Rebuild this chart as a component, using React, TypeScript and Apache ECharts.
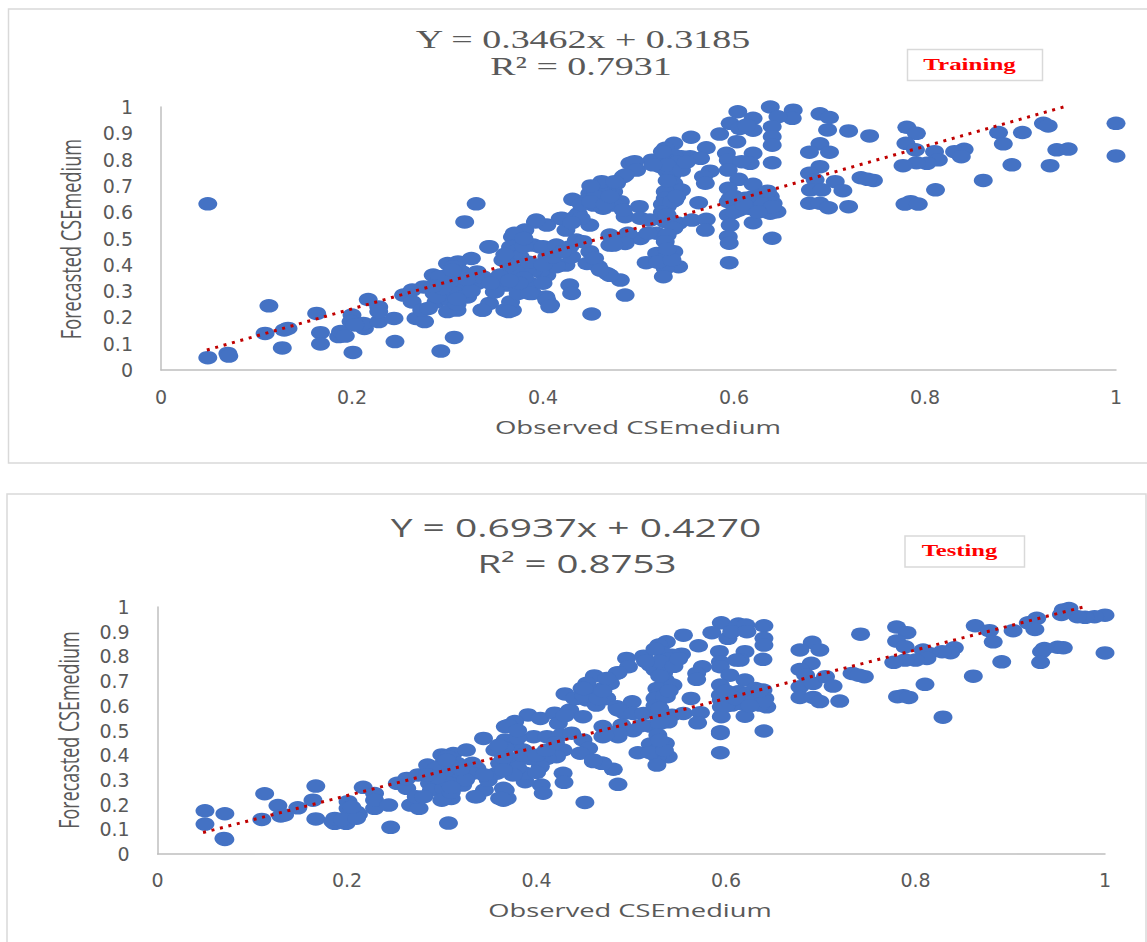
import React, { useEffect, useRef } from "react";
import * as echarts from "echarts";

const trainingPoints: number[][] = [
  [.049,.047],[.049,.632],[.07,.063],[.071,.053],[.113,.244],[.109,.139],[.127,.084],[.129,.152],[.133,.158],
  [.163,.215],[.167,.142],[.167,.099],[.186,.127],[.188,.146],[.193,.129],[.201,.067],[.2,.209],[.199,.184],[.213,.158],[.212,.177],[.203,.171],
  [.217,.268],[.228,.24],[.228,.184],[.228,.222],[.244,.196],[.245,.108],[.254,.285],[.263,.259],[.263,.304],[.275,.316],[.267,.196],[.276,.184],[.273,.228],[.293,.072],[.307,.124],
  [.3,.405],[.311,.411],[.325,.424],[.285,.361],[.3,.361],[.315,.373],[.331,.373],[.337,.354],[.331,.329],[.315,.335],[.302,.323],[.286,.291],[.298,.285],[.311,.316],[.321,.278],[.288,.259],[.302,.266],[.31,.228],[.3,.222],[.28,.234],[.319,.31],[.306,.392],[.294,.348],[.311,.354],[.308,.291],
  [.318,.563],[.33,.632],[.337,.228],[.344,.253],[.349,.297],[.343,.468],[.36,.228],[.368,.228],[.366,.259],[.364,.222],
  [.368,.506],[.381,.532],[.392,.563],[.404,.551],[.418,.576],[.424,.532],[.366,.468],[.374,.456],[.358,.418],[.368,.43],[.358,.361],[.368,.367],[.377,.38],[.362,.323],[.374,.316],[.385,.329],[.389,.291],[.374,.291],[.403,.278],[.408,.247],[.428,.323],[.43,.291],
  [.397,.468],[.412,.468],[.404,.43],[.395,.399],[.389,.392],[.404,.361],[.397,.373],[.416,.399],[.424,.399],[.43,.43],[.428,.468],[.435,.494],
  [.431,.649],[.434,.582],[.437,.595],[.393,.57],[.42,.577],[.449,.551],[.44,.577],[.449,.672],[.446,.646],[.453,.627],[.463,.615],[.474,.634],[.474,.678],[.46,.653],[.467,.684],[.477,.71],[.484,.735],[.491,.786],[.4615,.716],[.486,.583],[.481,.64],
  [.47,.475],[.47,.513],[.482,.5],[.481,.342],[.467,.367],[.458,.393],[.446,.405],[.449,.45],[.454,.425],[.442,.488],[.451,.213],[.486,.285],[.404,.266],[.407,.241],[.414,.393],[.39,.475],[.4,.469],[.414,.475],[.386,.33],[.386,.291],[.376,.355],[.376,.431],[.355,.361],[.372,.38],[.39,.38],[.35,.298],[.336,.228],[.344,.469],[.334,.355],[.292,.355],[.289,.279],[.317,.279],
  [.638,1.0],[.662,.988],[.661,.957],[.646,.963],[.604,.982],[.62,.957],[.596,.938],[.585,.897],[.603,.868],[.606,.919],[.62,.912],[.64,.925],[.613,.931],[.64,.887],[.64,.855],[.555,.885],[.571,.845],[.537,.862],[.528,.843],
  [.592,.824],[.594,.798],[.62,.824],[.617,.786],[.608,.792],[.64,.788],[.594,.76],[.554,.811],[.565,.805],[.545,.811],[.537,.817],[.528,.805],[.514,.798],[.523,.773],[.53,.754],[.538,.767],[.535,.741],[.496,.792],[.498,.76],[.486,.741],[.475,.716],
  [.575,.756],[.568,.735],[.57,.71],[.605,.725],[.62,.706],[.537,.71],[.545,.684],[.528,.678],[.528,.653],[.53,.621],[.538,.646],[.594,.691],[.596,.653],[.594,.64],[.612,.653],[.62,.659],[.629,.665],[.638,.659],[.641,.634],[.645,.602],[.638,.596],
  [.563,.636],[.501,.621],[.475,.627],[.484,.608],[.502,.577],[.512,.57],[.528,.564],[.542,.558],[.537,.539],[.519,.52],[.53,.513],[.556,.57],[.571,.573],[.57,.532],[.594,.589],[.605,.608],[.596,.551],[.62,.56],[.615,.615],
  [.594,.507],[.595,.482],[.64,.501],[.595,.408],[.528,.488],[.519,.443],[.537,.45],[.528,.424],[.542,.393],[.508,.408],[.528,.386],[.526,.355],[.502,.5],[.489,.52],[.486,.481],[.474,.475],
  [1,.938],[1,.814],[.938,.837],[.95,.84],[.924,.938],[.929,.928],[.902,.903],[.877,.903],[.882,.86],[.891,.78],[.931,.777],[.861,.721],[.841,.839],[.831,.83],[.838,.811],[.81,.83],[.814,.799],[.802,.786],[.791,.788],[.777,.777],[.811,.685],
  [.781,.923],[.791,.9],[.78,.862],[.79,.837],[.785,.64],[.779,.631],[.793,.631],[.742,.89],[.72,.909],[.698,.913],[.69,.974],[.7,.96],[.69,.86],[.679,.828],[.7,.828],[.69,.773],[.679,.748],[.685,.723],[.68,.685],[.692,.685],[.679,.634],[.69,.634],[.699,.617],[.72,.621],[.733,.731],[.746,.721],[.74,.725],[.706,.716],[.714,.682],
  [.31,.25],[.325,.3],[.295,.31],[.305,.38],[.32,.345],[.285,.32],[.31,.27],[.345,.33],[.365,.4],[.38,.35],[.385,.41],[.375,.33],[.4,.4],[.41,.43],[.42,.45],[.365,.34],[.36,.44],[.38,.47],[.37,.52],[.38,.5],[.4,.33],[.43,.56],[.44,.63],[.455,.66],[.45,.64],[.465,.63],[.47,.66],[.525,.63],[.535,.64],[.525,.83],[.54,.79],[.53,.78],[.545,.76],[.55,.79],[.515,.78],[.53,.72],[.54,.66],[.525,.6],[.53,.59],[.6,.6],[.61,.63],[.63,.63],[.64,.62],[.625,.6],[.635,.68],[.6,.66],[.45,.7],[.52,.41],[.535,.42],[.53,.46],[.51,.52],[.47,.36],[.46,.38],
];

const testingPoints: number[][] = [
  [.05,.175],[.071,.163],[.05,.121],[.07,.063],[.071,.059],[.113,.244],[.11,.14],[.127,.196],[.13,.154],[.134,.158],[.148,.187],[.164,.218],[.167,.275],[.167,.142],
  [.185,.131],[.187,.124],[.199,.124],[.187,.144],[.201,.212],[.201,.185],[.201,.151],[.212,.16],[.217,.27],[.229,.245],[.229,.185],[.229,.218],[.244,.198],[.246,.108],[.307,.125],
  [.253,.286],[.263,.266],[.263,.306],[.275,.32],[.267,.198],[.276,.185],[.273,.232],
  [.3,.401],[.312,.407],[.326,.421],[.285,.36],[.3,.36],[.316,.367],[.332,.367],[.337,.347],[.332,.326],[.316,.326],[.302,.32],[.287,.286],[.298,.279],[.312,.313],[.322,.279],[.289,.259],[.302,.266],[.31,.225],[.3,.218],[.281,.232],[.32,.306],[.306,.394],[.294,.347],[.312,.353],[.308,.286],
  [.337,.232],[.345,.259],[.349,.299],[.344,.468],[.361,.225],[.369,.225],[.367,.259],[.365,.218],
  [.43,.648],[.461,.721],[.485,.732],[.495,.792],[.453,.691],[.448,.671],[.442,.63],[.453,.624],[.463,.603],[.474,.63],[.47,.671],[.463,.651],[.478,.691],[.485,.59],[.493,.57],
  [.391,.563],[.404,.549],[.419,.57],[.435,.583],[.449,.556],[.423,.529],[.367,.516],[.377,.536],[.367,.462],[.377,.448],[.356,.421],[.367,.428],
  [.397,.475],[.411,.475],[.426,.482],[.437,.489],[.449,.462],[.455,.428],[.446,.408],[.46,.374],[.469,.367],[.481,.343],[.47,.516],[.47,.475],[.488,.502],[.486,.475],
  [.428,.327],[.429,.29],[.451,.209],[.486,.282],[.405,.279],[.407,.246],[.388,.293],[.388,.327],[.377,.34],[.375,.367],[.361,.367],[.358,.327],[.335,.232],[.365,.266],[.363,.225],
  [.428,.421],[.421,.394],[.411,.387],[.404,.354],[.393,.387],[.386,.421],[.372,.387],
  [.595,.936],[.613,.931],[.621,.927],[.64,.924],[.585,.896],[.602,.873],[.606,.9],[.622,.9],[.64,.873],[.64,.846],[.639,.788],[.555,.886],[.571,.843],[.537,.859],[.529,.846],[.593,.819],[.594,.778],[.594,.758],[.62,.819],[.615,.785],[.611,.785],
  [.553,.809],[.543,.805],[.534,.812],[.513,.801],[.52,.765],[.525,.745],[.536,.758],[.534,.731],[.497,.758],[.486,.734],[.474,.711],
  [.575,.758],[.569,.731],[.569,.707],[.604,.724],[.62,.704],[.536,.704],[.544,.684],[.527,.67],[.528,.643],[.529,.623],[.537,.637],[.594,.684],[.594,.643],[.595,.623],[.613,.657],[.622,.65],[.631,.67],[.639,.664],[.641,.63],[.643,.596],[.636,.603],
  [.563,.63],[.501,.616],[.474,.63],[.485,.596],[.486,.583],[.502,.569],[.513,.569],[.529,.562],[.543,.562],[.539,.535],[.52,.518],[.53,.529],[.555,.569],[.573,.572],[.57,.531],[.595,.596],[.606,.603],[.595,.556],[.62,.558],[.615,.61],
  [.594,.495],[.594,.488],[.64,.498],[.594,.41],[.528,.481],[.52,.445],[.536,.448],[.528,.421],[.539,.394],[.507,.41],[.527,.394],[.527,.36],[.502,.499],[.49,.522],[.486,.488],[.472,.481],[.47,.367],
  [1,.967],[1,.814],[.989,.961],[.979,.958],[.971,.961],[.962,.994],[.956,.988],[.954,.97],[.928,.954],[.919,.936],[.926,.909],[.936,.832],[.933,.819],[.95,.837],[.956,.835],[.932,.776],[.863,.924],[.878,.904],[.903,.904],[.882,.859],[.891,.778],[.861,.72],
  [.841,.835],[.837,.815],[.828,.819],[.814,.812],[.808,.826],[.812,.792],[.8,.785],[.789,.785],[.777,.776],[.81,.687],[.829,.554],[.78,.919],[.791,.896],[.78,.862],[.789,.839],[.781,.637],[.787,.641],[.793,.634],[.742,.89],
  [.691,.857],[.678,.826],[.699,.826],[.69,.772],[.678,.747],[.684,.724],[.678,.677],[.692,.691],[.678,.634],[.692,.634],[.699,.617],[.72,.619],[.733,.731],[.746,.718],[.74,.724],[.705,.718],[.713,.68],
  [.31,.25],[.325,.3],[.295,.31],[.305,.38],[.32,.345],[.285,.32],[.31,.27],[.345,.32],[.365,.39],[.38,.35],[.385,.4],[.375,.32],[.4,.4],[.41,.42],[.42,.45],[.365,.34],[.36,.44],[.38,.47],[.37,.52],[.38,.5],[.4,.33],[.43,.56],[.44,.63],[.455,.66],[.45,.64],[.465,.63],[.47,.66],[.525,.63],[.535,.64],[.525,.83],[.54,.79],[.53,.78],[.545,.76],[.55,.79],[.515,.78],[.53,.72],[.54,.66],[.525,.6],[.53,.59],[.6,.6],[.61,.63],[.63,.62],[.64,.62],[.625,.6],[.635,.66],[.6,.66],[.45,.67],[.52,.41],[.535,.42],[.53,.46],[.51,.52],[.46,.38],[.195,.14],[.21,.17],[.21,.145],[.205,.19],
];

const trainingTrend: number[][] = [[.048,.076],[.945,1.0]];
const testingTrend: number[][] = [[.048,.087],[.977,1.0]];

const trainingEquation = "Y = 0.3462x + 0.3185";
const trainingR2 = "R² = 0.7931";
const testingEquation = "Y = 0.6937x + 0.4270";
const testingR2 = "R² = 0.8753";
const xName = "Observed CSEmedium";
const yName = "Forecasted CSEmedium";

const GRAY = "#595959";
const BORDER = "#d9d9d9";
const BLUE = "#4472c4";
const RED = "#c00000";

function xAxis(gridIndex: number, margin: number) {
  return {
    type: "value", gridIndex, min: 0, max: 1, interval: 0.2,
    axisLine: { show: true, lineStyle: { color: "#bfbfbf", width: 1.5 } },
    axisTick: { show: false }, splitLine: { show: false },
    axisLabel: { color: GRAY, fontFamily: "DejaVu Sans", fontSize: 19, margin, hideOverlap: false, showMinLabel: true, showMaxLabel: true },
  };
}
function yAxis(gridIndex: number) {
  return {
    type: "value", gridIndex, min: 0, max: 1, interval: 0.1,
    axisLine: { show: true, onZero: false, lineStyle: { color: "#bfbfbf", width: 1.5 } },
    axisTick: { show: false }, splitLine: { show: false },
    axisLabel: { color: GRAY, fontFamily: "DejaVu Sans", fontSize: 19, margin: 28, hideOverlap: false, showMinLabel: true, showMaxLabel: true },
  };
}
function scatter(i: number, data: number[][], size: number[]) {
  return {
    type: "scatter", xAxisIndex: i, yAxisIndex: i, data, symbol: "circle", symbolSize: size, clip: false,
    itemStyle: { color: BLUE, opacity: 1 }, silent: true, z: 2,
  };
}
function trend(i: number, data: number[][]) {
  return {
    type: "line", xAxisIndex: i, yAxisIndex: i, data, showSymbol: false, symbol: "none", clip: false, silent: true, z: 3,
    lineStyle: { color: RED, width: 3, type: [3, 5.7] },
  };
}
function label(text: string, x: number, y: number, font: string, fill: string, scaleX: number, rotation = 0) {
  return {
    type: "text", x, y, scaleX, rotation, z: 10, silent: true,
    style: { text, font, fill, align: "center", verticalAlign: "middle" },
  };
}
function frame(x: number, y: number, width: number, height: number, lineWidth: number) {
  return {
    type: "rect", shape: { x, y, width, height }, z: -1, silent: true,
    style: { fill: "#ffffff", stroke: BORDER, lineWidth },
  };
}

const SERIF = '"Liberation Serif"';
const SANS = '"Open Sans"';

export default function App() {
  const ref = useRef<HTMLDivElement>(null);
  useEffect(() => {
    const chart = echarts.init(ref.current!, undefined, { renderer: "svg", width: 1147, height: 942 });
    chart.setOption({
      animation: false,
      backgroundColor: "#ffffff",
      grid: [
        { left: 161, width: 955, top: 107, height: 263, containLabel: false },
        { left: 157.6, width: 947.4, top: 607, height: 247, containLabel: false },
      ],
      xAxis: [xAxis(0, 17), xAxis(1, 16)],
      yAxis: [yAxis(0), yAxis(1)],
      series: [
        scatter(0, trainingPoints, [19, 13.5]),
        trend(0, trainingTrend),
        scatter(1, testingPoints, [19, 13.5]),
        trend(1, testingTrend),
      ],
      graphic: [
        frame(8.5, 9, 1150, 454, 1.5),
        frame(7, 494, 1139, 460, 1.5),
        frame(907.5, 49.5, 135, 31, 1.5),
        frame(905, 536, 119.5, 31, 1.5),
        label(trainingEquation, 583, 39, `26px ${SERIF}`, GRAY, 1.46),
        label(trainingR2, 581, 66, `26px ${SERIF}`, GRAY, 1.46),
        label(testingEquation, 576, 527, `26px ${SANS}`, GRAY, 1.5),
        label(testingR2, 577, 563, `26px ${SANS}`, GRAY, 1.48),
        label("Training", 969.5, 64.5, `bold 17px ${SERIF}`, "#ff0000", 1.47),
        label("Testing", 959.5, 550, `bold 17px ${SERIF}`, "#ff0000", 1.45),
        label(xName, 638, 427, `18px ${SANS}`, GRAY, 1.53),
        label(xName, 630, 910, `18px ${SANS}`, GRAY, 1.515),
        label(yName, 70, 239, `28px ${SANS}`, GRAY, 0.65, Math.PI / 2),
        label(yName, 68, 730, `28px ${SANS}`, GRAY, 0.64, Math.PI / 2),
      ],
    });
    return () => chart.dispose();
  }, []);
  return <div ref={ref} style={{ position: "absolute", left: 0, top: 0, width: 1147, height: 942 }} />;
}
